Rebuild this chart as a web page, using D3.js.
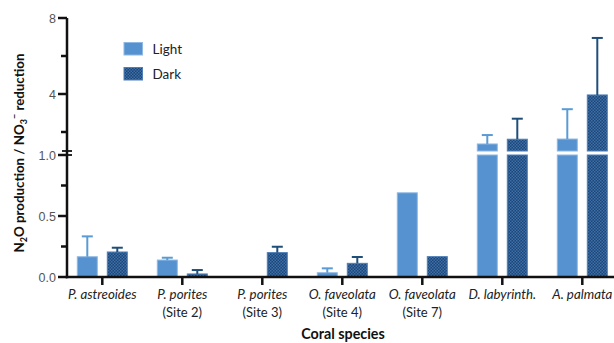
<!DOCTYPE html>
<html><head><meta charset="utf-8">
<script src="https://cdn.jsdelivr.net/npm/d3@7"></script>
<style>html,body{margin:0;padding:0;background:#fff;}svg{display:block;}</style>
</head><body>
<script>
const categories = ["P. astreoides","P. porites","P. porites","O. faveolata","O. faveolata","D. labyrinth.","A. palmata"];
const sites = ["","(Site 2)","(Site 3)","(Site 4)","(Site 7)","",""];
const lightValues = [0.166, 0.139, 0, 0.035, 0.69, 1.37, 1.63];
const lightErr = [0.167, 0.019, null, 0.036, null, 0.47, 1.57];
const darkValues = [0.205, 0.025, 0.2, 0.112, 0.167, 1.62, 3.95];
const darkErr = [0.035, 0.032, 0.048, 0.052, null, 1.08, 3.0];
const series = ["Light","Dark"];
const lowTicks = [0, 0.5, 1.0];
const lowMinor = [0.25, 0.75];
const highTicks = [4, 8];
const highMinor = [2, 6];

const W = 614, H = 343;
const svg = d3.select("body").append("svg").attr("width", W).attr("height", H);
const defs = svg.append("defs");
const pat = defs.append("pattern").attr("id","chk").attr("patternUnits","userSpaceOnUse").attr("width",3).attr("height",3);
pat.append("rect").attr("width",3).attr("height",3).attr("fill","#1d4677");
pat.append("rect").attr("x",0).attr("y",0).attr("width",1.5).attr("height",1.5).attr("fill","#3d6fa8");
pat.append("rect").attr("x",1.5).attr("y",1.5).attr("width",1.5).attr("height",1.5).attr("fill","#3d6fa8");

const axisX = 67;
const x0 = d3.scaleBand().domain(d3.range(categories.length)).range([62.3, 622.3]).padding(0);
const x1 = d3.scaleBand().domain(series).range([-25, 25]).paddingInner(1/3).paddingOuter(0);
const yLow = d3.scaleLinear().domain([0, 1]).range([277, 155]);
const yHigh = d3.scaleLinear().domain([1, 8]).range([151, 18]);
function yv(v){ return v <= 1 ? yLow(v) : yHigh(v); }

const fills = {Light: "#5592cf", Dark: "url(#chk)"};
const strokes = {Light: "#8fb8e2", Dark: "#4f7fb8"};
const errCol = {Light: "#5b9bd5", Dark: "#1f4e79"};

const data = [];
categories.forEach((c, i) => {
  data.push({i, s:"Light", v: lightValues[i], e: lightErr[i]});
  data.push({i, s:"Dark", v: darkValues[i], e: darkErr[i]});
});

const g = svg.append("g");
data.forEach(d => {
  if (!d.v) return;
  const cx = x0(d.i) + x0.bandwidth()/2 + x1(d.s);
  const bw = x1.bandwidth();
  const topLow = yLow(Math.min(d.v, 1));
  g.append("rect").attr("x", cx).attr("y", topLow).attr("width", bw).attr("height", yLow(0) - topLow)
    .attr("fill", fills[d.s]).attr("stroke", strokes[d.s]).attr("stroke-width", 1);
  if (d.v > 1) {
    const topHigh = yHigh(d.v);
    g.append("rect").attr("x", cx).attr("y", topHigh).attr("width", bw).attr("height", yHigh(1) - topHigh)
      .attr("fill", fills[d.s]).attr("stroke", strokes[d.s]).attr("stroke-width", 1);
  }
  if (d.e != null) {
    const mx = cx + bw/2;
    const yTop = yv(d.v + d.e);
    g.append("line").attr("x1", mx).attr("x2", mx).attr("y1", yv(d.v)).attr("y2", yTop)
      .attr("stroke", errCol[d.s]).attr("stroke-width", 2);
    g.append("line").attr("x1", mx - 5.5).attr("x2", mx + 5.5).attr("y1", yTop).attr("y2", yTop)
      .attr("stroke", errCol[d.s]).attr("stroke-width", 2);
  }
});

const ax = svg.append("g").attr("stroke", "#111").attr("stroke-width", 2.5).attr("fill","none");
ax.append("line").attr("x1", axisX).attr("x2", axisX).attr("y1", yHigh(8)).attr("y2", yLow(0) + 1.25);
lowTicks.forEach(t => ax.append("line").attr("x1", axisX - 9).attr("x2", axisX).attr("y1", yLow(t)).attr("y2", yLow(t)));
lowMinor.forEach(t => ax.append("line").attr("x1", axisX - 6).attr("x2", axisX).attr("y1", yLow(t)).attr("y2", yLow(t)));
highTicks.forEach(t => ax.append("line").attr("x1", axisX - 9).attr("x2", axisX).attr("y1", yHigh(t)).attr("y2", yHigh(t)));
highMinor.forEach(t => ax.append("line").attr("x1", axisX - 6).attr("x2", axisX).attr("y1", yHigh(t)).attr("y2", yHigh(t)));
[yHigh(1), yLow(1)].forEach(y => ax.append("line").attr("x1", axisX - 5).attr("x2", axisX + 5).attr("y1", y).attr("y2", y).attr("stroke-width", 1.8));

const tickFont = "Liberation Sans, Arial, sans-serif";
const tl = svg.append("g").attr("font-family", tickFont).attr("font-size", 12.5).attr("fill", "#555").attr("text-anchor", "end");
lowTicks.forEach(t => tl.append("text").attr("x", axisX - 11).attr("y", yLow(t)).attr("dy", "0.36em").text(d3.format(".1f")(t)));
highTicks.forEach(t => tl.append("text").attr("x", axisX - 11).attr("y", yHigh(t)).attr("dy", "0.36em").text(t));

ax.append("line").attr("x1", axisX - 1.25).attr("x2", W).attr("y1", yLow(0)).attr("y2", yLow(0));
categories.forEach((c, i) => {
  const cx = x0(i) + x0.bandwidth()/2;
  ax.append("line").attr("x1", cx).attr("x2", cx).attr("y1", yLow(0)).attr("y2", yLow(0) + 8);
});

const labFont = "Lato, 'Open Sans', sans-serif";
const xl = svg.append("g").attr("font-family", labFont).attr("fill", "#222").attr("text-anchor", "middle");
categories.forEach((c, i) => {
  const cx = x0(i) + x0.bandwidth()/2;
  xl.append("text").attr("x", cx).attr("y", 299).attr("font-size", 13.3).attr("font-style", "italic").text(c);
  if (sites[i]) xl.append("text").attr("x", cx).attr("y", 317).attr("font-size", 13).text(sites[i]);
});

svg.append("text").attr("x", 343).attr("y", 339).attr("text-anchor", "middle")
  .attr("font-family", labFont).attr("font-weight", "bold").attr("font-size", 14.3).attr("fill", "#111").text("Coral species");

const yt = svg.append("text").attr("transform", "translate(24,153) rotate(-90)").attr("text-anchor", "middle")
  .attr("font-family", labFont).attr("font-weight", "bold").attr("font-size", 13.3).attr("fill", "#111");
yt.append("tspan").text("N");
yt.append("tspan").attr("font-size", 9).attr("dy", 3).text("2");
yt.append("tspan").attr("dy", -3).text("O production / NO");
yt.append("tspan").attr("font-size", 9).attr("dy", 3).text("3");
yt.append("tspan").attr("font-size", 9).attr("dy", -9).text("−");
yt.append("tspan").attr("dy", 6).text(" reduction");

const lg = svg.append("g");
series.forEach((s, k) => {
  const y = 42.5 + k * 25;
  lg.append("rect").attr("x", 124).attr("y", y).attr("width", 18.5).attr("height", 12.5)
    .attr("fill", fills[s]).attr("stroke", strokes[s]).attr("stroke-width", 1);
  lg.append("text").attr("x", 152.5).attr("y", y + 6.5).attr("dy", "0.36em")
    .attr("font-family", labFont).attr("font-size", 13.5).attr("fill", "#222").text(s);
});
</script>
</body></html>
